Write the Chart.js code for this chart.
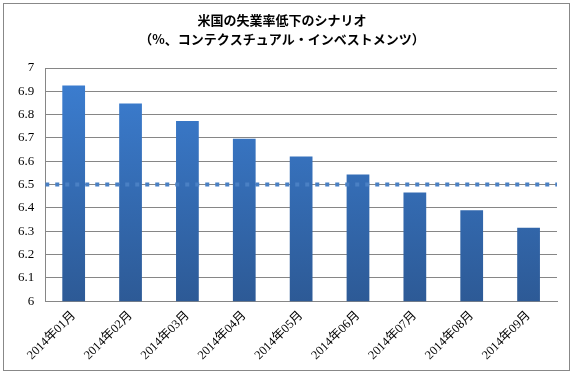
<!DOCTYPE html>
<html>
<head>
<meta charset="utf-8">
<script src="https://cdn.jsdelivr.net/npm/chart.js@4/dist/chart.umd.min.js"></script>
<style>
  body { margin: 0; background: #fff; }
  #frame {
    position: absolute; left: 3px; top: 3px;
    width: 565px; height: 366px;
    border: 1px solid #888;
  }
</style>
</head>
<body>
<div id="frame"><canvas id="chart" width="565" height="366"></canvas></div>
<script>
// data
const months = ['2014年01月', '2014年02月', '2014年03月', '2014年04月', '2014年05月',
                '2014年06月', '2014年07月', '2014年08月', '2014年09月'];
const rates = [6.925, 6.848, 6.773, 6.697, 6.62, 6.543, 6.466, 6.39, 6.315];
const targetRate = 6.5;
const titleLines = ['米国の失業率低下のシナリオ', '（%、コンテクスチュアル・インベストメンツ）'];

// vertical gradient for the bars
function barFill(context) {
    const area = context.chart.chartArea;
    if (!area) return '#3a73c0';
    const g = context.chart.ctx.createLinearGradient(0, area.top, 0, area.bottom);
    g.addColorStop(0, '#3c7fd3');
    g.addColorStop(1, '#2d5a96');
    return g;
}

const ctx = document.getElementById('chart').getContext('2d');
new Chart(ctx, {
    type: 'bar',
    data: {
        labels: months,
        datasets: [{
            type: 'bar',
            data: rates,
            backgroundColor: barFill,
            barPercentage: 0.4,
            categoryPercentage: 1.0,
            grouped: false,
            order: 2
        }, {
            // target line spans the whole plot width
            type: 'line',
            xAxisID: 'x2',
            data: [{ x: 0, y: targetRate }, { x: 1, y: targetRate }],
            borderColor: '#4a80c4',
            borderWidth: 4,
            borderDash: [4, 6],
            pointRadius: 0,
            fill: false,
            order: 1
        }]
    },
    options: {
        responsive: false,
        animation: false,
        layout: { padding: { left: 3, right: 12, top: 0, bottom: 0 } },
        plugins: {
            legend: { display: false },
            tooltip: { enabled: false },
            title: {
                display: true,
                text: titleLines,
                color: '#000',
                font: { family: '"Noto Sans CJK JP"', size: 13, weight: 'bold', lineHeight: 1.5 },
                padding: { top: 6, bottom: 19 }
            }
        },
        scales: {
            x: {
                offset: true,
                grid: { display: false, drawTicks: false },
                border: { color: '#868686' },
                ticks: {
                    color: '#000',
                    maxRotation: 45,
                    minRotation: 45,
                    padding: 7,
                    font: { family: '"Liberation Serif", "Noto Sans CJK JP"', size: 12.5 }
                }
            },
            x2: {
                type: 'linear',
                display: false,
                offset: false,
                grid: { offset: false },
                min: 0,
                max: 1
            },
            y: {
                min: 6,
                max: 7,
                ticks: {
                    stepSize: 0.1,
                    color: '#000',
                    padding: 11,
                    font: { family: '"Liberation Serif"', size: 13 },
                    callback: v => String(+v.toFixed(1))
                },
                grid: { color: '#868686', drawTicks: false },
                border: { color: '#868686' }
            }
        }
    }
});
</script>
</body>
</html>
